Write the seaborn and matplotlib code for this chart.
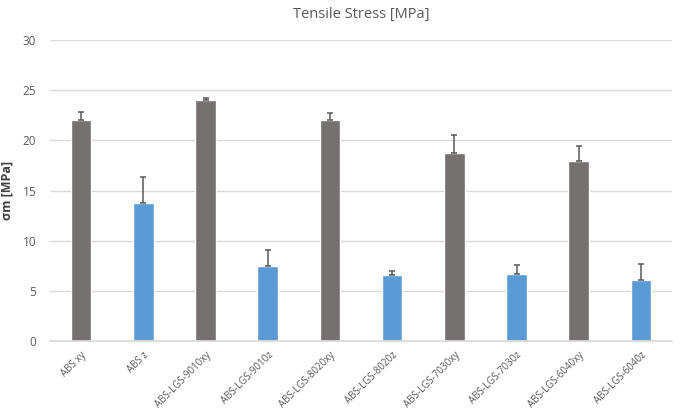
import matplotlib
matplotlib.use("Agg")
import matplotlib.pyplot as plt
import seaborn as sns
import pandas as pd
import numpy as np

categories = ["ABS xy", "ABS z", "ABS-LGS-9010xy", "ABS-LGS-9010z", "ABS-LGS-8020xy",
              "ABS-LGS-8020z", "ABS-LGS-7030xy", "ABS-LGS-7030z", "ABS-LGS-6040xy", "ABS-LGS-6040z"]
orientation = ["xy", "z", "xy", "z", "xy", "z", "xy", "z", "xy", "z"]
stress = [22.0, 13.8, 24.0, 7.5, 22.0, 6.6, 18.7, 6.7, 17.9, 6.1]
stress_sd = [0.8, 2.5, 0.2, 1.6, 0.7, 0.4, 1.8, 0.9, 1.5, 1.6]

df = pd.DataFrame({"sample": categories, "orient": orientation, "stress": stress, "sd": stress_sd})

sns.set_theme(style="white")
plt.rcParams["font.family"] = ["Open Sans", "DejaVu Sans"]

fig = plt.figure(figsize=(6.8, 4.12), dpi=100)
ax = fig.add_axes([50 / 680, 1 - 341 / 412, 622 / 680, 301 / 412])

palette = {"xy": "#767171", "z": "#5B9BD5"}
sns.barplot(data=df, x="sample", y="stress", hue="orient", palette=palette,
            dodge=False, width=0.33, legend=False, saturation=1, ax=ax, zorder=2)

xpos = np.arange(len(categories))
ax.errorbar(xpos, stress, yerr=[np.zeros(len(stress)), stress_sd], fmt="none",
            ecolor="#595959", elinewidth=1.1, capsize=2.5, capthick=1.1, zorder=3)

ax.set_ylim(0, 30)
ax.set_yticks(range(0, 31, 5))
ax.set_xlim(-0.5, len(categories) - 0.5)
ax.yaxis.grid(True, color="#D9D9D9", linewidth=1)
ax.set_axisbelow(True)
for s in ["top", "right", "left"]:
    ax.spines[s].set_visible(False)
ax.spines["bottom"].set_color("#D9D9D9")
ax.tick_params(axis="both", length=0, colors="#595959")
ax.tick_params(axis="y", labelsize=8.5, pad=10)
ax.tick_params(axis="x", labelsize=7, pad=6)
plt.setp(ax.get_xticklabels(), rotation=45, ha="right", rotation_mode="anchor")

ax.set_xlabel("")
ax.set_ylabel("σm [MPa]", fontsize=9, color="#404040", fontweight="bold")
ax.yaxis.set_label_coords(-0.058, 0.5)
ax.set_title("Tensile Stress [MPa]", fontsize=10.5, color="#595959", pad=16)

fig.savefig("out.png", dpi=100)
